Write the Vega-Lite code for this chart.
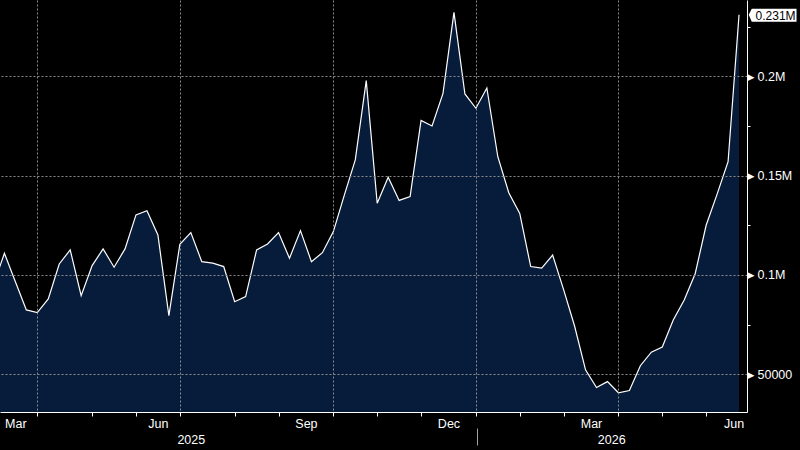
{
  "$schema": "https://vega.github.io/schema/vega-lite/v6.json",
  "width": 747,
  "height": 412,
  "autosize": {"type": "none"},
  "padding": {"left": 0, "top": 0, "right": 53, "bottom": 38},
  "background": "#000000",
  "config": {
    "view": {"stroke": null},
    "axis": {
      "labelFont": "Liberation Sans",
      "labelFontSize": 12.5,
      "labelColor": "#ffffff",
      "title": null,
      "labelFlush": false,
      "labelOverlap": false
    }
  },
  "datasets": {
    "series": [
      {"date": "2025-03-04", "value": 95000},
      {"date": "2025-03-11", "value": 110900},
      {"date": "2025-03-18", "value": 96600},
      {"date": "2025-03-25", "value": 82400},
      {"date": "2025-04-01", "value": 81000},
      {"date": "2025-04-08", "value": 87900},
      {"date": "2025-04-15", "value": 105500},
      {"date": "2025-04-22", "value": 112600},
      {"date": "2025-04-29", "value": 89600},
      {"date": "2025-05-06", "value": 104700},
      {"date": "2025-05-13", "value": 113100},
      {"date": "2025-05-20", "value": 103900},
      {"date": "2025-05-27", "value": 113100},
      {"date": "2025-06-03", "value": 130200},
      {"date": "2025-06-10", "value": 132300},
      {"date": "2025-06-17", "value": 120100},
      {"date": "2025-06-24", "value": 79500},
      {"date": "2025-07-01", "value": 115400},
      {"date": "2025-07-08", "value": 121300},
      {"date": "2025-07-15", "value": 106700},
      {"date": "2025-07-22", "value": 105900},
      {"date": "2025-07-29", "value": 104200},
      {"date": "2025-08-05", "value": 86500},
      {"date": "2025-08-12", "value": 89100},
      {"date": "2025-08-19", "value": 112600},
      {"date": "2025-08-26", "value": 115600},
      {"date": "2025-09-02", "value": 121300},
      {"date": "2025-09-09", "value": 108400},
      {"date": "2025-09-16", "value": 122300},
      {"date": "2025-09-23", "value": 106700},
      {"date": "2025-09-30", "value": 111200},
      {"date": "2025-10-07", "value": 121800},
      {"date": "2025-10-14", "value": 140200},
      {"date": "2025-10-21", "value": 157900},
      {"date": "2025-10-28", "value": 197800},
      {"date": "2025-11-04", "value": 136100},
      {"date": "2025-11-11", "value": 149200},
      {"date": "2025-11-18", "value": 137500},
      {"date": "2025-11-25", "value": 139400},
      {"date": "2025-12-02", "value": 177800},
      {"date": "2025-12-09", "value": 175000},
      {"date": "2025-12-16", "value": 191400},
      {"date": "2025-12-23", "value": 232200},
      {"date": "2025-12-30", "value": 191100},
      {"date": "2026-01-06", "value": 183900},
      {"date": "2026-01-13", "value": 194100},
      {"date": "2026-01-20", "value": 159500},
      {"date": "2026-01-27", "value": 141400},
      {"date": "2026-02-03", "value": 131000},
      {"date": "2026-02-10", "value": 104200},
      {"date": "2026-02-17", "value": 103400},
      {"date": "2026-02-24", "value": 110000},
      {"date": "2026-03-03", "value": 92600},
      {"date": "2026-03-10", "value": 74300},
      {"date": "2026-03-17", "value": 52200},
      {"date": "2026-03-24", "value": 43300},
      {"date": "2026-03-31", "value": 46300},
      {"date": "2026-04-07", "value": 40700},
      {"date": "2026-04-14", "value": 41800},
      {"date": "2026-04-21", "value": 54300},
      {"date": "2026-04-28", "value": 61100},
      {"date": "2026-05-05", "value": 63700},
      {"date": "2026-05-12", "value": 77300},
      {"date": "2026-05-19", "value": 87400},
      {"date": "2026-05-26", "value": 100600},
      {"date": "2026-06-02", "value": 125000},
      {"date": "2026-06-09", "value": 140700},
      {"date": "2026-06-16", "value": 157000},
      {"date": "2026-06-23", "value": 231000}
    ],
    "last": [
      {"date": "2026-06-23", "value": 231000, "label": "0.231M"}
    ]
  },
  "layer": [
    {
      "data": {"name": "series"},
      "mark": {"type": "area", "color": "#071c3a", "clip": true},
      "encoding": {
        "x": {
          "field": "date", "type": "temporal",
          "scale": {"domain": [{"year": 2025, "month": 3, "date": 8, "hours": 4, "minutes": 19, "utc": true}, {"year": 2026, "month": 6, "date": 28, "hours": 2, "utc": true}]},
          "axis": {
            "orient": "bottom",
            "zindex": 1,
            "values": [
              {"year": 2025, "month": 4, "date": 1, "utc": true},
              {"year": 2025, "month": 5, "date": 6, "utc": true},
              {"year": 2025, "month": 6, "date": 3, "utc": true},
              {"year": 2025, "month": 7, "date": 1, "utc": true},
              {"year": 2025, "month": 8, "date": 5, "utc": true},
              {"year": 2025, "month": 9, "date": 2, "utc": true},
              {"year": 2025, "month": 10, "date": 7, "utc": true},
              {"year": 2025, "month": 11, "date": 4, "utc": true},
              {"year": 2025, "month": 12, "date": 2, "utc": true},
              {"year": 2026, "month": 1, "date": 6, "utc": true},
              {"year": 2026, "month": 2, "date": 3, "utc": true},
              {"year": 2026, "month": 3, "date": 3, "utc": true},
              {"year": 2026, "month": 4, "date": 7, "utc": true},
              {"year": 2026, "month": 5, "date": 5, "utc": true},
              {"year": 2026, "month": 6, "date": 2, "utc": true}
            ],
            "labels": false,
            "ticks": true,
            "tickSize": 4,
            "tickColor": "#ffffff",
            "tickWidth": 1,
            "domain": true,
            "domainColor": "#ffffff",
            "domainWidth": 1,
            "grid": true,
            "gridColor": "#8c8c8c",
            "gridDash": [2, 2],
            "gridWidth": 1,
            "gridOpacity": {"condition": {"test": "utcmonth(datum.value) % 3 == 0", "value": 1}, "value": 0}
          }
        },
        "y": {
          "field": "value", "type": "quantitative",
          "scale": {"domain": [31000, 238400], "nice": false, "zero": false},
          "axis": {
            "orient": "right",
            "zindex": 1,
            "values": [50000, 75000, 100000, 125000, 150000, 175000, 200000, 225000],
            "labelExpr": "datum.value % 50000 == 0 ? (datum.value >= 100000 ? format(datum.value / 1000000, '') + 'M' : format(datum.value, 'd')) : ''",
            "ticks": true,
            "tickSize": 3,
            "tickColor": "#ffffff",
            "tickOpacity": {"condition": {"test": "datum.value % 50000 != 0", "value": 1}, "value": 0},
            "labelPadding": 7,
            "domain": true,
            "domainColor": "#ffffff",
            "domainWidth": 1,
            "grid": true,
            "gridColor": "#8c8c8c",
            "gridDash": [2, 2],
            "gridWidth": 1,
            "gridOpacity": {"condition": {"test": "datum.value % 50000 == 0", "value": 1}, "value": 0}
          }
        }
      }
    },
    {
      "data": {"name": "series"},
      "mark": {"type": "line", "color": "#ffffff", "strokeWidth": 1.2, "clip": true},
      "encoding": {
        "x": {
          "field": "date", "type": "temporal",
          "scale": {"domain": [{"year": 2025, "month": 3, "date": 8, "hours": 4, "minutes": 19, "utc": true}, {"year": 2026, "month": 6, "date": 28, "hours": 2, "utc": true}]},
          "axis": {
            "orient": "bottom",
            "values": [
              {"year": 2025, "month": 3, "date": 18, "utc": true},
              {"year": 2025, "month": 6, "date": 17, "utc": true},
              {"year": 2025, "month": 9, "date": 19, "hours": 12, "utc": true},
              {"year": 2025, "month": 12, "date": 19, "hours": 12, "utc": true},
              {"year": 2026, "month": 3, "date": 20, "hours": 12, "utc": true},
              {"year": 2026, "month": 6, "date": 19, "hours": 12, "utc": true}
            ],
            "labelExpr": "utcFormat(datum.value, '%b')",
            "ticks": false,
            "tickSize": 0,
            "domain": false,
            "grid": false,
            "labelPadding": 5
          }
        },
        "y": {
          "field": "value", "type": "quantitative",
          "scale": {"domain": [31000, 238400], "nice": false, "zero": false},
          "axis": {
            "orient": "right",
            "values": [50000, 100000, 150000, 200000],
            "labelExpr": "'▶'",
            "labelFont": "DejaVu Sans",
            "labelFontSize": 9,
            "labelPadding": 0,
            "ticks": false,
            "tickSize": 0,
            "domain": false,
            "grid": false
          }
        }
      }
    },
    {
      "data": {"name": "last"},
      "mark": {
        "type": "point",
        "shape": "M 9.7 0 L 12.7 -6 L 57.5 -6 L 57.5 7 L 12.7 7 Z",
        "size": 4,
        "filled": true,
        "color": "#ffffff",
        "opacity": 1,
        "strokeWidth": 0
      },
      "encoding": {
        "x": {
          "field": "date", "type": "temporal",
          "scale": {"domain": [{"year": 2025, "month": 3, "date": 8, "hours": 4, "minutes": 19, "utc": true}, {"year": 2026, "month": 6, "date": 28, "hours": 2, "utc": true}]},
          "axis": {
            "orient": "bottom",
            "offset": 16,
            "values": [
              {"year": 2025, "month": 7, "date": 8, "utc": true},
              {"year": 2026, "month": 1, "date": 6, "hours": 12, "utc": true},
              {"year": 2026, "month": 4, "date": 2, "hours": 10, "utc": true}
            ],
            "labelExpr": "utcmonth(datum.value) == 0 ? '' : utcFormat(datum.value, '%Y')",
            "ticks": true,
            "tickSize": 17,
            "tickColor": "#a0a0a0",
            "tickWidth": 1,
            "tickOpacity": {"condition": {"test": "utcmonth(datum.value) == 0", "value": 1}, "value": 0},
            "labelPadding": -12,
            "domain": false,
            "grid": false
          }
        },
        "y": {
          "field": "value", "type": "quantitative",
          "scale": {"domain": [31000, 238400], "nice": false, "zero": false},
          "axis": null
        }
      }
    },
    {
      "data": {"name": "last"},
      "mark": {
        "type": "text",
        "align": "left",
        "baseline": "middle",
        "dx": 16.5,
        "dy": 1,
        "font": "Liberation Sans",
        "fontSize": 12,
        "color": "#000000"
      },
      "encoding": {
        "x": {
          "field": "date", "type": "temporal",
          "scale": {"domain": [{"year": 2025, "month": 3, "date": 8, "hours": 4, "minutes": 19, "utc": true}, {"year": 2026, "month": 6, "date": 28, "hours": 2, "utc": true}]},
          "axis": null
        },
        "y": {
          "field": "value", "type": "quantitative",
          "scale": {"domain": [31000, 238400], "nice": false, "zero": false},
          "axis": null
        },
        "text": {"field": "label"}
      }
    }
  ],
  "resolve": {"axis": {"x": "independent", "y": "independent"}}
}
